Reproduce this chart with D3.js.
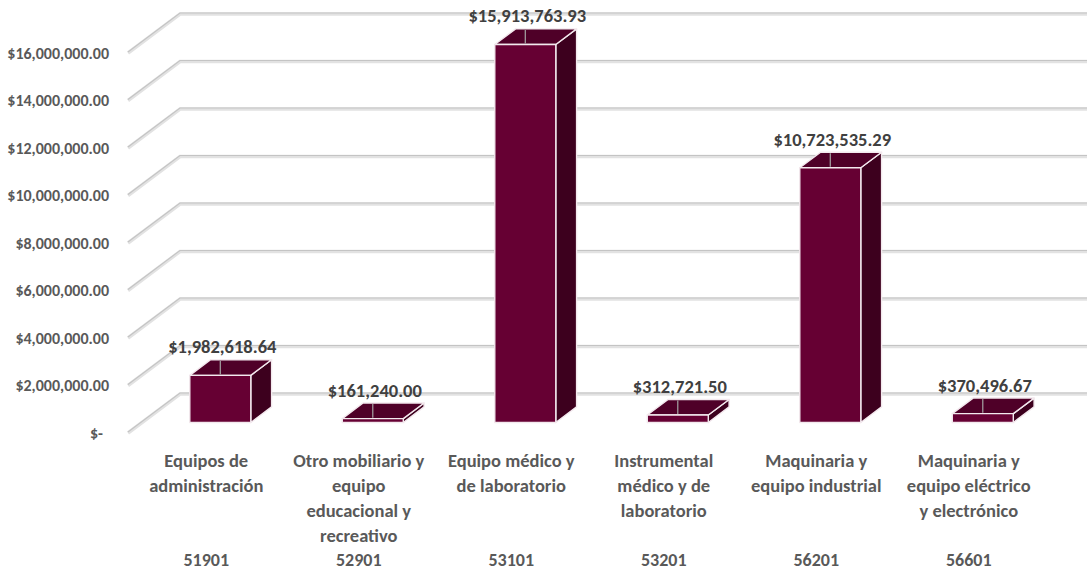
<!DOCTYPE html>
<html>
<head>
<meta charset="utf-8">
<script src="https://cdn.jsdelivr.net/npm/d3@7"></script>
<style>
  body { margin: 0; background: #fff; }
  svg text { font-family: Carlito, "Liberation Sans", Arial, sans-serif; font-weight: bold; }
</style>
</head>
<body>
<div id="chart"></div>
<script>
// partidas (codigo + descripcion) y montos
var codes = ["51901", "52901", "53101", "53201", "56201", "56601"];
var labels = [
    ["Equipos de", "administración"],
    ["Otro mobiliario y", "equipo", "educacional y", "recreativo"],
    ["Equipo médico y", "de laboratorio"],
    ["Instrumental", "médico y de", "laboratorio"],
    ["Maquinaria y", "equipo industrial"],
    ["Maquinaria y", "equipo eléctrico", "y electrónico"]
];
var values = [1982618.64, 161240.00, 15913763.93, 312721.50, 10723535.29, 370496.67];
var yTicks = [0, 2000000, 4000000, 6000000, 8000000, 10000000, 12000000, 14000000, 16000000];

var W = 1087, H = 576;
var depthX = 52, depthY = 39;      // 3d offset of the back wall
var barD0 = 0.27, barD1 = 0.67;    // bar depth inside the floor

var svg = d3.select("#chart").append("svg")
    .attr("width", W)
    .attr("height", H);

var x = d3.scaleBand()
    .domain(codes)
    .range([130, 1045])
    .paddingInner(0.6)
    .paddingOuter(0.3);

var y = d3.scaleLinear()
    .domain([0, 16000000])
    .range([433, 53]);

var money = d3.format("$,.2f");

// project a point (front x, value, depth 0..1) to the screen
function P(px, v, d) {
    return [px + d * depthX, y(v) - d * depthY];
}

// gridlines: diagonal on the side wall + line on the back wall
var gridPath = function (v) {
    var a = P(x.range()[0] - 2, v, 0), b = P(x.range()[0] - 2, v, 1);
    return "M" + a + "L" + b + "L" + (W + 10) + "," + b[1];
};
var grid = svg.append("g");
grid.selectAll(".g1").data(yTicks).enter().append("path")
    .attr("d", gridPath)
    .attr("fill", "none")
    .attr("stroke", "#e2e2e2")
    .attr("stroke-width", 3.5);
grid.selectAll(".g2").data(yTicks).enter().append("path")
    .attr("d", gridPath)
    .attr("transform", "translate(0,-1)")
    .attr("fill", "none")
    .attr("stroke", "#c4c4c4")
    .attr("stroke-width", 1.1);

// y axis labels
var yAxis = svg.append("g")
    .attr("transform", "translate(112,0)")
    .call(d3.axisLeft(y).tickValues(yTicks).tickSize(0).tickPadding(3)
        .tickFormat(function (v) { return v === 0 ? "$-" : money(v); }));
yAxis.select(".domain").remove();
yAxis.selectAll("text")
    .attr("fill", "#595959")
    .style("font-size", "16px")
    .attr("dx", function (v) { return v === 0 ? -6 : 0; });

// bars
var bw = x.bandwidth();
var bars = svg.append("g").selectAll("g").data(values).enter().append("g");

function poly(pts) { return pts.map(function (p) { return p.join(","); }).join(" "); }

bars.each(function (v, i) {
    var g = d3.select(this);
    var x0 = x(codes[i]), x1 = x0 + bw;
    var fbl = P(x0, 0, barD0), fbr = P(x1, 0, barD0),
        ftl = P(x0, v, barD0), ftr = P(x1, v, barD0),
        btl = P(x0, v, barD1), btr = P(x1, v, barD1),
        bbr = P(x1, 0, barD1);
    var edge = { stroke: "#f3e9ee", width: 1.4 };
    g.append("polygon").attr("points", poly([fbr, ftr, btr, bbr]))
        .attr("fill", "#3d001e").attr("stroke", edge.stroke).attr("stroke-width", edge.width).attr("stroke-linejoin", "round");
    g.append("polygon").attr("points", poly([ftl, ftr, btr, btl]))
        .attr("fill", "#4f0028").attr("stroke", edge.stroke).attr("stroke-width", edge.width).attr("stroke-linejoin", "round");
    g.append("polygon").attr("points", poly([fbl, fbr, ftr, ftl]))
        .attr("fill", "#660033").attr("stroke", edge.stroke).attr("stroke-width", edge.width).attr("stroke-linejoin", "round");

    // leader line + value label
    var cx = (x0 + x1) / 2 + barD0 * depthX;
    g.append("line")
        .attr("x1", cx).attr("x2", cx)
        .attr("y1", btl[1] + 1).attr("y2", ftl[1] - 1)
        .attr("stroke", "#a6a6a6").attr("stroke-width", 1.2);
    g.append("text")
        .attr("x", cx + 2)
        .attr("y", btl[1] - 13)
        .attr("dy", "0.35em")
        .attr("text-anchor", "middle")
        .attr("fill", "#404040")
        .style("font-size", "18.5px")
        .text(money(v));
});

// category labels (two levels: description and code)
var cats = svg.append("g").selectAll("text").data(labels).enter().append("text")
    .attr("text-anchor", "middle")
    .attr("fill", "#595959")
    .style("font-size", "18.5px")
    .attr("transform", function (d, i) { return "translate(" + (x(codes[i]) + bw / 2) + ",461)"; });
cats.selectAll("tspan").data(function (d) { return d; }).enter().append("tspan")
    .attr("x", 0)
    .attr("y", function (d, j) { return j * 25; })
    .attr("dy", "0.35em")
    .text(function (d) { return d; });

svg.append("g").selectAll("text").data(codes).enter().append("text")
    .attr("x", function (c) { return x(c) + bw / 2; })
    .attr("y", 560)
    .attr("dy", "0.35em")
    .attr("text-anchor", "middle")
    .attr("fill", "#595959")
    .style("font-size", "18px")
    .text(function (c) { return c; });
</script>
</body>
</html>
